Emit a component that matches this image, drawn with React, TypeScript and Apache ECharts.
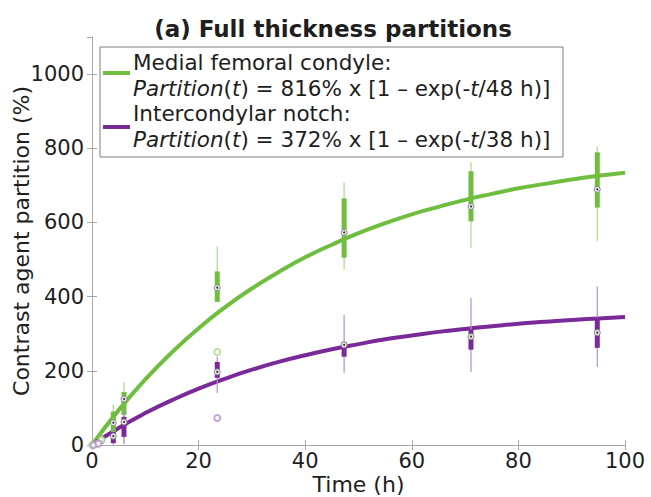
import React, { useEffect, useRef } from "react";
import * as echarts from "echarts";

// Fitted curves (time h, partition %)
const curveTimes = [0, 5, 10, 15, 20, 25, 30, 35, 40, 45, 50, 55, 60, 65, 70, 75, 80, 85, 90, 95, 100];
const medialCurve = [0, 94, 177, 250, 315, 372, 422, 466, 506, 540, 571, 598, 622, 642, 661, 677, 692, 704, 716, 726, 734];
const notchCurve = [0, 46, 86, 121, 152, 179, 203, 224, 242, 258, 272, 285, 295, 305, 313, 320, 327, 332, 337, 341, 345];

// Box plots: [time, low whisker, q1, median, q3, high whisker]
const medialBoxes = [
  [4, 8, 32, 60, 90, 110],
  [6, 5, 81, 124, 143, 170],
  [23.5, 386, 386, 424, 468, 535],
  [47.3, 473, 505, 573, 665, 708],
  [71.1, 532, 603, 643, 738, 762],
  [94.8, 549, 640, 689, 789, 805],
];
const notchBoxes = [
  [1.8, 3, 5, 12, 22, 25],
  [4, 0, 5, 24, 35, 45],
  [6, 2, 22, 62, 76, 98],
  [23.5, 140, 181, 197, 224, 238],
  [47.3, 195, 238, 270, 278, 351],
  [71.1, 197, 257, 292, 311, 397],
  [94.8, 211, 262, 303, 343, 427],
];
// Single points / outliers: [time, value]
const medialPoints = [[0, 0], [1, 3], [1.8, 14], [23.5, 251]];
const notchPoints = [[0.3, 0], [1.2, 4], [23.5, 73]];

const xTicks = [0, 20, 40, 60, 80, 100];
const yTicks = [0, 200, 400, 600, 800, 1000];

const GREEN = "#6fbe3f";
const GREEN_LIGHT = "#a9d98c";
const PURPLE = "#7a2a98";
const PURPLE_LIGHT = "#b78fcc";
const FONT = "DejaVu Sans, Verdana, sans-serif";
const TEXT = "#1e1e1e";
const AXIS = "#a8a8a8";
const LEGEND_FS = 21.5;

function boxSeries(name: string, data: number[][], color: string, light: string) {
  return {
    name,
    type: "custom",
    data,
    z: 3,
    renderItem: (params: any, api: any) => {
      const t = api.value(0);
      const pLow = api.coord([t, api.value(1)]);
      const pQ1 = api.coord([t, api.value(2)]);
      const pMed = api.coord([t, api.value(3)]);
      const pQ3 = api.coord([t, api.value(4)]);
      const pHigh = api.coord([t, api.value(5)]);
      const x = pMed[0];
      return {
        type: "group",
        children: [
          { type: "line", shape: { x1: x, y1: pHigh[1], x2: x, y2: pLow[1] }, style: { stroke: light, lineWidth: 1.2 } },
          { type: "line", shape: { x1: x, y1: pQ3[1], x2: x, y2: pQ1[1] }, style: { stroke: color, lineWidth: 5 } },
          { type: "circle", shape: { cx: x, cy: pMed[1], r: 3 }, style: { fill: "#e6e6e6", stroke: "#8a8a8a", lineWidth: 1 } },
          { type: "circle", shape: { cx: x, cy: pMed[1], r: 1 }, style: { fill: "#333" } },
        ],
      };
    },
  };
}

export default function App() {
  const ref = useRef<HTMLDivElement>(null);
  useEffect(() => {
    if (!ref.current) return;
    const chart = echarts.init(ref.current, undefined, { renderer: "svg" });
    const axisCommon = {
      axisLine: { show: true, lineStyle: { color: AXIS, width: 1 } },
      axisTick: { show: true, inside: true, length: 5, lineStyle: { color: AXIS } },
      splitLine: { show: false },
    };
    const fmt = (v: number) => String(v);
    chart.setOption({
      animation: false,
      backgroundColor: "#ffffff",
      title: {
        text: "(a) Full thickness partitions",
        left: 328,
        textAlign: "center",
        top: 12,
        textStyle: { fontFamily: FONT, fontWeight: "bold", fontSize: 23, color: TEXT },
      },
      grid: { left: 92, right: 26, top: 37, bottom: 52, containLabel: false, outerBoundsMode: "none" },
      xAxis: [
        {
          type: "value",
          min: xTicks[0],
          max: xTicks[xTicks.length - 1],
          interval: 20,
          position: "bottom",
          ...axisCommon,
          axisLabel: { fontFamily: FONT, fontSize: 21, color: TEXT, margin: 5, formatter: fmt },
          name: "Time (h)",
          nameLocation: "middle",
          nameGap: 28,
          nameMoveOverlap: false,
          nameTextStyle: { fontFamily: FONT, fontSize: 22, color: TEXT },
        },
        {
          type: "value",
          min: xTicks[0],
          max: xTicks[xTicks.length - 1],
          interval: 20,
          position: "top",
          ...axisCommon,
          axisLabel: { show: false },
        },
      ],
      yAxis: [
        {
          type: "value",
          min: yTicks[0],
          max: 1100,
          interval: 200,
          position: "left",
          ...axisCommon,
          axisLabel: { fontFamily: FONT, fontSize: 21, color: TEXT, margin: 8, showMaxLabel: false, formatter: fmt },
          name: "Contrast agent partition (%)",
          nameLocation: "middle",
          nameGap: 60,
          nameMoveOverlap: false,
          nameTextStyle: { fontFamily: FONT, fontSize: 22, color: TEXT },
        },
        {
          type: "value",
          min: yTicks[0],
          max: 1100,
          interval: 200,
          position: "right",
          ...axisCommon,
          axisLabel: { show: false },
        },
      ],
      series: [
        {
          name: "Medial femoral condyle fit",
          type: "line",
          data: curveTimes.map((t, i) => [t, medialCurve[i]]),
          smooth: true,
          showSymbol: false,
          lineStyle: { color: GREEN, width: 4 },
          z: 2,
        },
        {
          name: "Intercondylar notch fit",
          type: "line",
          data: curveTimes.map((t, i) => [t, notchCurve[i]]),
          smooth: true,
          showSymbol: false,
          lineStyle: { color: PURPLE, width: 4 },
          z: 2,
        },
        boxSeries("Medial boxes", medialBoxes, GREEN, GREEN_LIGHT),
        boxSeries("Notch boxes", notchBoxes, PURPLE, PURPLE_LIGHT),
        {
          name: "Medial points",
          type: "scatter",
          data: medialPoints,
          symbol: "emptyCircle",
          symbolSize: 6,
          itemStyle: { color: GREEN_LIGHT, borderColor: GREEN_LIGHT, borderWidth: 1 },
          z: 4,
        },
        {
          name: "Notch points",
          type: "scatter",
          data: notchPoints,
          symbol: "emptyCircle",
          symbolSize: 6,
          itemStyle: { color: PURPLE_LIGHT, borderColor: PURPLE_LIGHT, borderWidth: 1 },
          z: 4,
        },
      ],
      graphic: [
        {
          type: "group",
          z: 100,
          children: [
            { type: "rect", shape: { x: 100, y: 47, width: 463, height: 110 }, style: { fill: "#ffffff", stroke: "#7f7f7f", lineWidth: 1 } },
            { type: "line", shape: { x1: 103, y1: 73, x2: 130, y2: 73 }, style: { stroke: GREEN, lineWidth: 4 } },
            { type: "line", shape: { x1: 103, y1: 127, x2: 130, y2: 127 }, style: { stroke: PURPLE, lineWidth: 4 } },
            {
              type: "text",
              x: 133,
              y: 62,
              style: { text: "Medial femoral condyle:", fontFamily: FONT, fontSize: LEGEND_FS, fill: TEXT, verticalAlign: "middle" },
            },
            {
              type: "text",
              x: 133,
              y: 88,
              style: {
                text: "{i|Partition}({i|t}) = 816% x [1 – exp(-{i|t}/48 h)]",
                fontFamily: FONT,
                fontSize: LEGEND_FS,
                fill: TEXT,
                verticalAlign: "middle",
                rich: { i: { fontStyle: "italic", fontFamily: FONT, fontSize: LEGEND_FS, fill: TEXT } },
              },
            },
            {
              type: "text",
              x: 133,
              y: 113,
              style: { text: "Intercondylar notch:", fontFamily: FONT, fontSize: LEGEND_FS, fill: TEXT, verticalAlign: "middle" },
            },
            {
              type: "text",
              x: 133,
              y: 139,
              style: {
                text: "{i|Partition}({i|t}) = 372% x [1 – exp(-{i|t}/38 h)]",
                fontFamily: FONT,
                fontSize: LEGEND_FS,
                fill: TEXT,
                verticalAlign: "middle",
                rich: { i: { fontStyle: "italic", fontFamily: FONT, fontSize: LEGEND_FS, fill: TEXT } },
              },
            },
          ],
        },
      ],
    });
    return () => chart.dispose();
  }, []);
  return (
    <div
      ref={ref}
      style={{ position: "fixed", left: 0, top: 0, width: 651, height: 497, background: "#fff" }}
    />
  );
}
